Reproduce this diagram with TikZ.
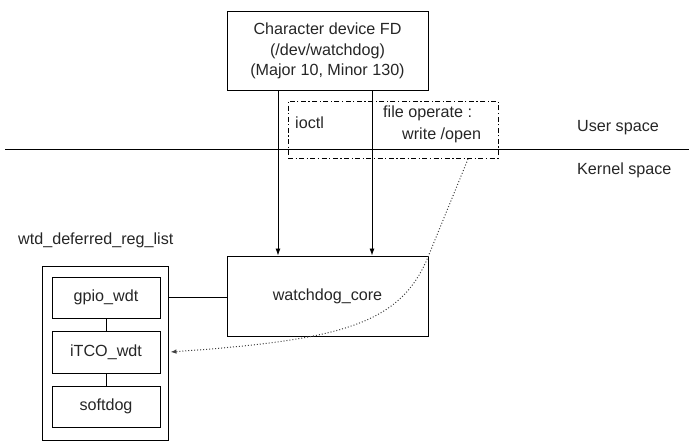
\documentclass[tikz,border=0pt]{standalone}
\usepackage{fontspec}
\setmainfont{Liberation Sans}
\usetikzlibrary{arrows.meta}
\begin{document}
\begin{tikzpicture}[x=1bp,y=-1bp,
  every node/.style={font=\fontsize{16.2}{20.5}\selectfont, text=black!85},
  box/.style={draw, line width=0.9bp, rectangle, inner sep=0pt},
  lbl/.style={inner sep=0pt, align=left, anchor=base west},
  conn/.style={line width=0.9bp},
  arr/.style={line width=0.9bp, -{Latex[length=7bp,width=5bp]}},
  dotarr/.style={line width=1bp, dotted, black!75, -{Latex[length=6bp,width=4.5bp]}},
  dashdotbox/.style={line width=0.9bp, dash pattern=on 5bp off 2.5bp on 1.2bp off 2.5bp}
]
\useasboundingbox (0,0) rectangle (696,447);
% boxes
\node[box, minimum width=201bp, minimum height=79bp, align=center] (chr) at (327.5,51)
  {Character device FD\\(/dev/watchdog)\\(Major 10, Minor 130)};
\node[box, minimum width=201bp, minimum height=80bp] (core) at (327.5,296) {watchdog\_core};
\node[box, minimum width=126bp, minimum height=174bp] (list) at (105,353) {};
\node[box, minimum width=108bp, minimum height=41bp] (gpio) at (106,297.5) {gpio\_wdt};
\node[box, minimum width=108bp, minimum height=42bp] (itco) at (106,352) {iTCO\_wdt};
\node[box, minimum width=108bp, minimum height=41bp] (soft) at (106,406.5) {softdog};
% dash-dot box
\node[dashdotbox, draw, minimum width=210bp, minimum height=57bp, inner sep=0pt] (ops) at (393,129.5) {};
% labels
\node[lbl] (ioctl) at (295,129) {ioctl};
\node[lbl] (fop) at (383,118) {file operate :};
\node[lbl] (wo) at (402,140) {write /open};
\node[lbl] (us) at (577,132) {User space};
\node[lbl] (ks) at (577,175) {Kernel space};
\node[lbl] (wl) at (18,245) {wtd\_deferred\_reg\_list};
% separator line
\coordinate (sepL) at (5,149);
\coordinate (sepR) at (689,149);
\draw[conn] (sepL) -- (sepR);
% connectors
\draw[arr] (chr.south -| 278,0) -- (core.north -| 278,0);
\draw[arr] (chr.south -| 372,0) -- (core.north -| 372,0);
\draw[conn] (list.east |- gpio.east) -- (core.west |- gpio.east);
\draw[conn] (gpio) -- (itco);
\draw[conn] (itco) -- (soft);
\coordinate (dstart) at (468,159);
\coordinate (dmid) at (428,257);
\coordinate (dend) at ([xshift=2bp]list.east |- itco.east);
\draw[dotarr] (dstart) -- (dmid) .. controls (400,325) and (340,340) .. (dend);
\end{tikzpicture}
\end{document}
